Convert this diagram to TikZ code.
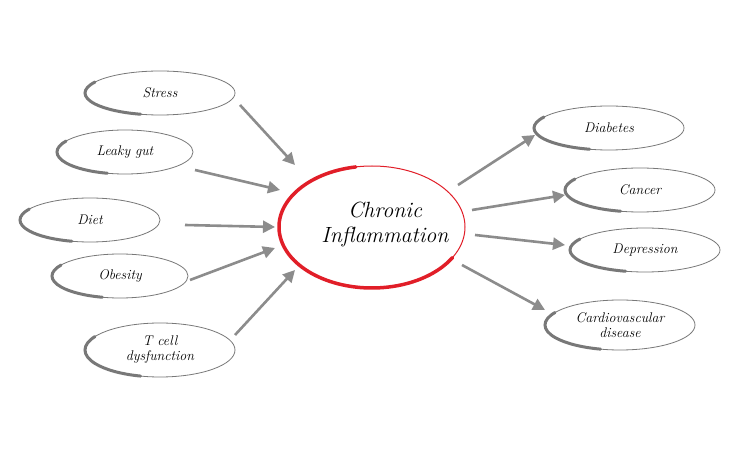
\documentclass[tikz,border=0pt]{standalone}
\usetikzlibrary{arrows.meta}
\definecolor{ovgray}{RGB}{120,120,120}
\definecolor{arrgray}{RGB}{140,140,140}
\definecolor{inflred}{RGB}{225,30,40}
\tikzset{
  lbl/.style={font=\itshape\fontsize{14}{15}\selectfont, align=center, inner sep=0pt},
  conn/.style={draw=arrgray, line width=2.6pt, -{Triangle[length=12pt,width=12pt]}}
}
\newcommand{\myoval}[6]{%
  \draw[ovgray, line width=0.8pt] (#2,#3) ellipse[x radius=#4, y radius=#5];
  \draw[ovgray, line width=3pt, line cap=round] (#2,#3) ++(150:#4 and #5)
     arc[start angle=150, end angle=255, x radius=#4, y radius=#5];
  \node[lbl] (#1) at (#2,#3) {#6};
}
\begin{document}
\begin{tikzpicture}[x=1pt,y=1pt]
\useasboundingbox[fill=white] (0,0) rectangle (750,450);
% center
\draw[inflred, line width=1pt] (372,223) ellipse[x radius=93, y radius=61];
\draw[inflred, line width=3.5pt, line cap=round] (372,223) ++(100:93 and 61)
  arc[start angle=100, end angle=330, x radius=93, y radius=61];
\node[lbl, font=\itshape\fontsize{22}{25}\selectfont] (chronic) at (385,225) {Chronic\\Inflammation};
% left
\myoval{stress}{160}{357}{75}{22}{Stress}
\myoval{leaky}{125}{298}{68}{22}{Leaky gut}
\myoval{diet}{90}{230}{70}{22}{Diet}
\myoval{obesity}{120}{174}{68}{22}{Obesity}
\myoval{tcell}{160}{100}{75}{27}{T cell\\dysfunction}
% right
\myoval{diab}{609}{322}{75}{22}{Diabetes}
\myoval{canc}{640}{260}{75}{22}{Cancer}
\myoval{depr}{645}{200}{75}{22}{Depression}
\myoval{cardio}{620}{125}{75}{25}{Cardiovascular\\disease}
% arrow endpoints
\coordinate (s1) at (240,345); \coordinate (s2) at (295,285);
\coordinate (l1) at (195,280); \coordinate (l2) at (280,260);
\coordinate (d1) at (185,225); \coordinate (d2) at (275,223);
\coordinate (o1) at (190,170); \coordinate (o2) at (275,202);
\coordinate (t1) at (235,115); \coordinate (t2) at (295,180);
\coordinate (r1a) at (458,265); \coordinate (r1b) at (535,315);
\coordinate (r2a) at (472,240); \coordinate (r2b) at (565,255);
\coordinate (r3a) at (475,215); \coordinate (r3b) at (565,205);
\coordinate (r4a) at (462,185); \coordinate (r4b) at (545,140);
\draw[conn] (s1) -- (s2);
\draw[conn] (l1) -- (l2);
\draw[conn] (d1) -- (d2);
\draw[conn] (o1) -- (o2);
\draw[conn] (t1) -- (t2);
\draw[conn] (r1a) -- (r1b);
\draw[conn] (r2a) -- (r2b);
\draw[conn] (r3a) -- (r3b);
\draw[conn] (r4a) -- (r4b);
\end{tikzpicture}
\end{document}
